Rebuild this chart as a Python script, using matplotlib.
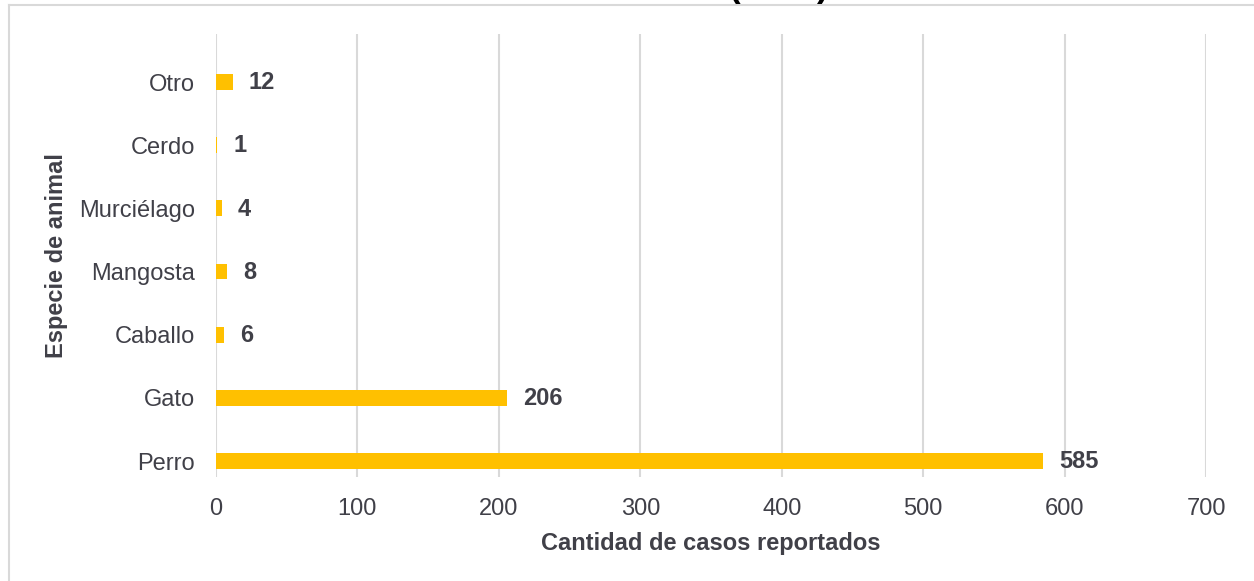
import matplotlib
matplotlib.use("Agg")
import matplotlib.pyplot as plt
from matplotlib.lines import Line2D

# data
especies = ["Perro", "Gato", "Caballo", "Mangosta", "Murciélago", "Cerdo", "Otro"]
casos = [585, 206, 6, 8, 4, 1, 12]
xticks = [0, 100, 200, 300, 400, 500, 600, 700]

plt.rcParams['font.family'] = ['Liberation Sans', 'DejaVu Sans']
text_color = '#404048'
grid_color = '#D9D9D9'
bar_color = '#FFC000'
fs = 17

W, H = 1254, 581
fig = plt.figure(figsize=(W / 100, H / 100), dpi=100)
ax = fig.add_axes([216 / W, 1 - 477 / H, 990 / W, 443 / H])

pos = list(range(len(especies)))
ax.barh(pos, casos, height=0.25, color=bar_color, zorder=3)

for p, v in zip(pos, casos):
    ax.annotate(str(v), xy=(v, p), xytext=(11.5, -0.5), textcoords='offset points',
                va='center', ha='left', fontsize=fs, fontweight='bold',
                color=text_color)

ax.set_xlim(0, 700)
ax.set_ylim(-0.253, 6.76)
ax.set_xticks(xticks)
ax.set_yticks(pos)
ax.set_yticklabels(especies)
ax.tick_params(axis='both', length=0, labelsize=fs, labelcolor=text_color)
ax.tick_params(axis='y', pad=15)
ax.tick_params(axis='x', pad=15)
ax.grid(axis='x', color=grid_color, linewidth=1.5, zorder=0)
ax.set_axisbelow(True)
for s in ax.spines.values():
    s.set_visible(False)

ax.set_xlabel("Cantidad de casos reportados", fontsize=fs, fontweight='bold',
              color=text_color, labelpad=9)
ax.set_ylabel("Especie de animal", fontsize=fs, fontweight='bold',
              color=text_color, labelpad=8)

# chart frame (left and top edges visible)
fx = 9 / W
fy = 1 - 5 / H
fig.add_artist(Line2D([fx, fx], [0, fy], transform=fig.transFigure,
                      color=grid_color, linewidth=1.5))
fig.add_artist(Line2D([fx, 1], [fy, fy], transform=fig.transFigure,
                      color=grid_color, linewidth=1.5))

# title is cut off at the top of the image; only the parentheses' tails show
fig.text(779 / W, 1 + 3 / H, "(2021)", ha='center', va='baseline',
         fontsize=25, fontweight='bold', color='black')

fig.savefig("out.png", dpi=100)
